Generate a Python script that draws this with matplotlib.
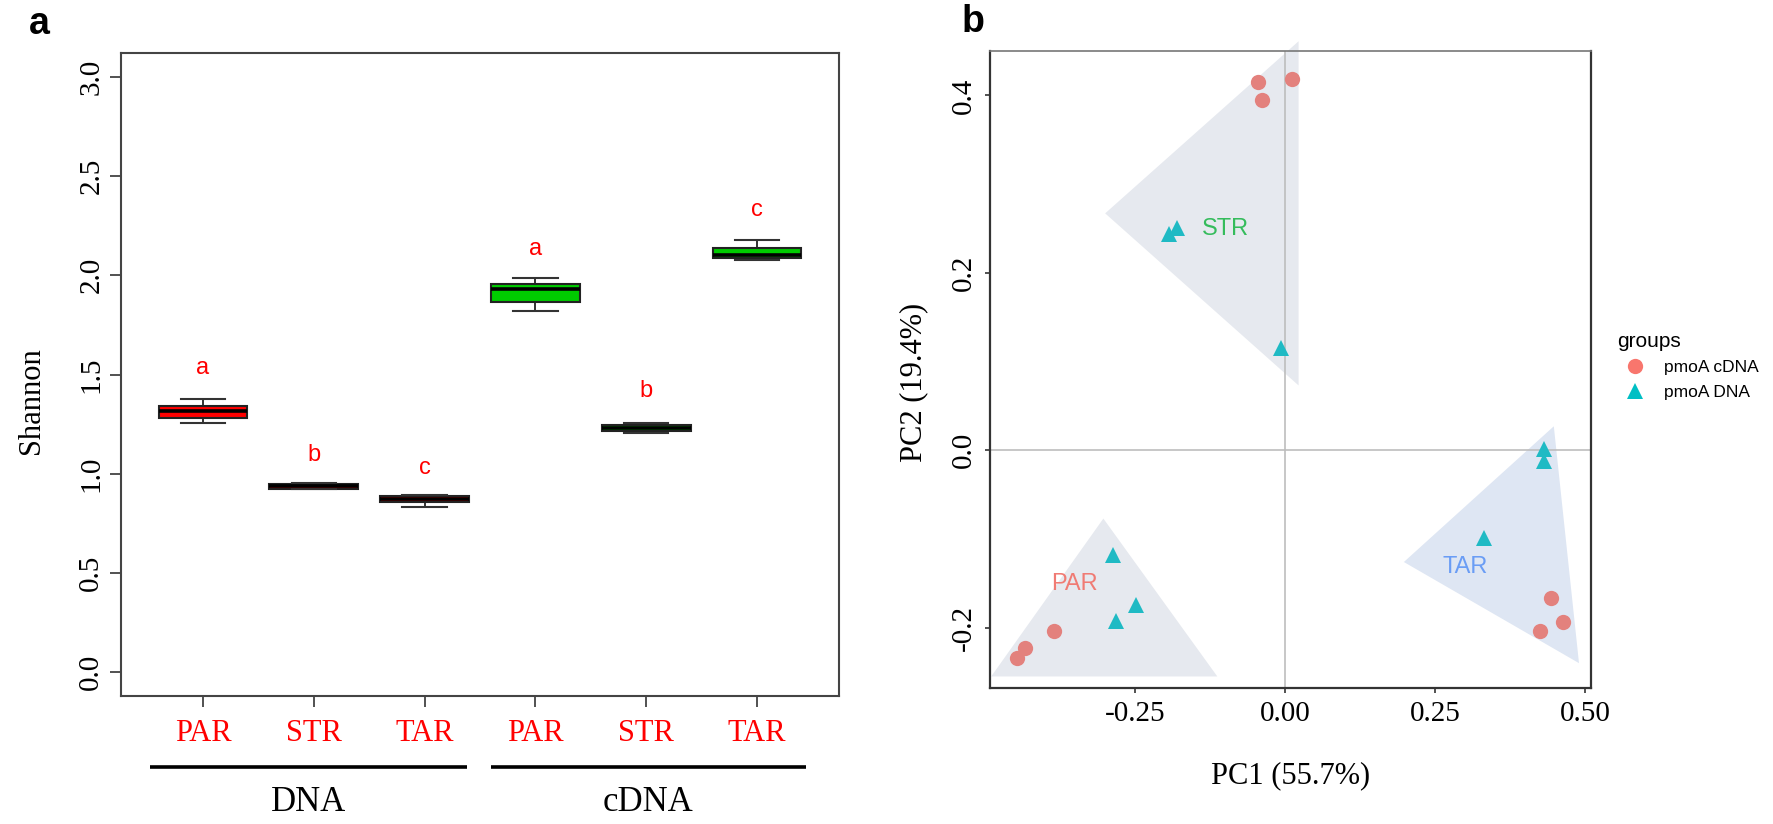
import numpy as np
import matplotlib
matplotlib.use('Agg')
import matplotlib.pyplot as plt
import matplotlib.transforms as mtransforms
from matplotlib.lines import Line2D

SERIF = 'Liberation Serif'
SANS = 'Liberation Sans'

# %% DADOS - painel a (boxplots de Shannon)
sites = ['PAR', 'STR', 'TAR', 'PAR', 'STR', 'TAR']
groups = ['DNA', 'cDNA']
box_fill = ['#FF0000', '#FF0000', '#FF0000', '#00CC00', '#00CC00', '#00CC00']
whis_lo = [1.258, 0.921, 0.833, 1.818, 1.207, 2.076]
q1 = [1.283, 0.924, 0.859, 1.867, 1.217, 2.086]
med = [1.318, 0.937, 0.874, 1.929, 1.232, 2.102]
q3 = [1.343, 0.950, 0.889, 1.958, 1.247, 2.136]
whis_hi = [1.379, 0.955, 0.894, 1.985, 1.258, 2.177]
letters = ['a', 'b', 'c', 'a', 'b', 'c']
letter_y = [1.535, 1.092, 1.029, 2.131, 1.416, 2.330]

# %% DADOS - painel b (PCoA)
cdna_x = [-0.045, -0.038, 0.012, -0.385, -0.433, -0.447, 0.443, 0.464, 0.425]
cdna_y = [0.415, 0.395, 0.418, -0.204, -0.223, -0.234, -0.166, -0.194, -0.204]
dna_x = [-0.180, -0.193, -0.007, -0.287, -0.248, -0.282, 0.432, 0.432, 0.332]
dna_y = [0.251, 0.244, 0.115, -0.118, -0.174, -0.193, 0.001, -0.012, -0.099]

hull_names = ['STR', 'PAR', 'TAR']
hull_x = [[0.0225, -0.300, 0.0225], [-0.303, -0.490, -0.113], [0.448, 0.198, 0.490]]
hull_y = [[0.461, 0.267, 0.073], [-0.077, -0.255, -0.255], [0.027, -0.126, -0.240]]
hull_fill = ['#E6E9EF', '#E6E9EF', '#DEE6F3']
label_x = [-0.100, -0.352, 0.300]
label_y = [0.249, -0.151, -0.132]
label_col = ['#35BC5C', '#F07B74', '#6A9DF5']

W, H = 1773, 824
fig = plt.figure(figsize=(W / 100, H / 100), dpi=100)

# %% PAINEL a
ax = fig.add_axes([121 / W, 1 - 696 / H, (839 - 121) / W, (696 - 53) / H])
pos = np.arange(1, len(sites) + 1)
stats = [dict(med=m, q1=a, q3=b, whislo=lo, whishi=hi, fliers=[])
         for m, a, b, lo, hi in zip(med, q1, q3, whis_lo, whis_hi)]
bp = ax.bxp(stats, positions=pos, widths=0.8, patch_artist=True,
            boxprops=dict(edgecolor='#222222', linewidth=1.5),
            medianprops=dict(color='black', linewidth=2.6),
            whiskerprops=dict(color='#222222', linewidth=1.3),
            capprops=dict(color='#333333', linewidth=1.5), capwidths=0.4)
for patch, c in zip(bp['boxes'], box_fill):
    patch.set_facecolor(c)

for x, y, t in zip(pos, letter_y, letters):
    ax.text(x, y, t, color='red', fontsize=17, family=SANS, ha='center', va='center')

ax.set_xlim(0.26, 6.74)
ax.set_ylim(-0.12, 3.12)
ax.set_yticks(np.arange(0, 3.01, 0.5))
ax.set_yticklabels([f'{v:.1f}' for v in np.arange(0, 3.01, 0.5)],
                   family=SERIF, fontsize=21, rotation=90, va='center')
ax.set_xticks(pos)
ax.set_xticklabels([])
ax.tick_params(axis='both', length=8, width=1.2, color='#333333', pad=4)
for s in ax.spines.values():
    s.set_color('#444444')
    s.set_linewidth(1.5)

trans = mtransforms.blended_transform_factory(ax.transData, ax.transAxes)
for x, s in zip(pos, sites):
    ax.text(x, -0.059, s, transform=trans, color='red', family=SERIF,
            fontsize=22, ha='center', va='center')
for (x0, x1), g in zip([(0.52, 3.38), (3.60, 6.44)], groups):
    ax.plot([x0, x1], [-0.110, -0.110], transform=trans, color='black',
            lw=2.6, clip_on=False, solid_capstyle='butt')
    ax.text((x0 + x1) / 2, -0.165, g, transform=trans, family=SERIF,
            fontsize=25, ha='center', va='center')

ax.set_ylabel('Shannon', family=SERIF, fontsize=22)
ax.yaxis.set_label_coords(-0.124, 0.46)
ax.yaxis.label.set_va('center')
fig.text(39 / W, 1 - 24 / H, 'a', family=SANS, weight='bold', fontsize=27,
         ha='center', va='center')

# %% PAINEL b
ax2 = fig.add_axes([990 / W, 1 - 688 / H, (1591 - 990) / W, (688 - 51) / H])
for hx, hy, c in zip(hull_x, hull_y, hull_fill):
    ax2.fill(hx, hy, color=c, lw=0, zorder=1, clip_on=False)
ax2.axhline(0, color='#BDBDBD', lw=1.2, zorder=1.5)
ax2.axvline(0, color='#BDBDBD', lw=1.2, zorder=1.5)
ax2.plot(cdna_x, cdna_y, 'o', color='#E3817D', ms=11, mew=0, zorder=3)
ax2.plot(dna_x, dna_y, '^', color='#1FBAC4', ms=12, mew=0, zorder=3)
for x, y, t, c in zip(label_x, label_y, hull_names, label_col):
    ax2.text(x, y, t, color=c, family=SANS, fontsize=17, ha='center',
             va='center', zorder=4)

ax2.set_xlim(-0.492, 0.51)
ax2.set_ylim(-0.268, 0.45)
ax2.set_xticks([-0.25, 0, 0.25, 0.5])
ax2.set_xticklabels(['-0.25', '0.00', '0.25', '0.50'], family=SERIF, fontsize=21)
ax2.set_yticks([-0.2, 0, 0.2, 0.4])
ax2.set_yticklabels(['-0.2', '0.0', '0.2', '0.4'], family=SERIF, fontsize=21,
                    rotation=90, va='center')
ax2.tick_params(axis='both', length=3.6, width=1.2, color='#333333', pad=6)
for side, s in ax2.spines.items():
    s.set_color('#333333' if side != 'top' else '#777777')
    s.set_linewidth(1.6 if side != 'top' else 1.2)

ax2.set_xlabel('PC1 (55.7%)', family=SERIF, fontsize=22)
ax2.xaxis.set_label_coords(0.5, -0.137)
ax2.xaxis.label.set_va('center')
ax2.set_ylabel('PC2 (19.4%)', family=SERIF, fontsize=22)
ax2.yaxis.set_label_coords(-0.127, 0.48)
ax2.yaxis.label.set_va('center')
fig.text(973 / W, 1 - 22 / H, 'b', family=SANS, weight='bold', fontsize=27,
         ha='center', va='center')

handles = [Line2D([], [], marker='o', ls='', color='#F8766D', ms=11, mew=0),
           Line2D([], [], marker='^', ls='', color='#00BFC4', ms=12, mew=0)]
fig.legend(handles, ['pmoA cDNA', 'pmoA DNA'], title='groups', loc='upper left',
           bbox_to_anchor=(1602 / W, 1 - 316 / H), frameon=False,
           prop=dict(family=SANS, size=12.5), title_fontproperties=dict(family=SANS, size=15),
           alignment='left', handletextpad=0.7, labelspacing=0.55)

fig.savefig('out.png', dpi=100)
